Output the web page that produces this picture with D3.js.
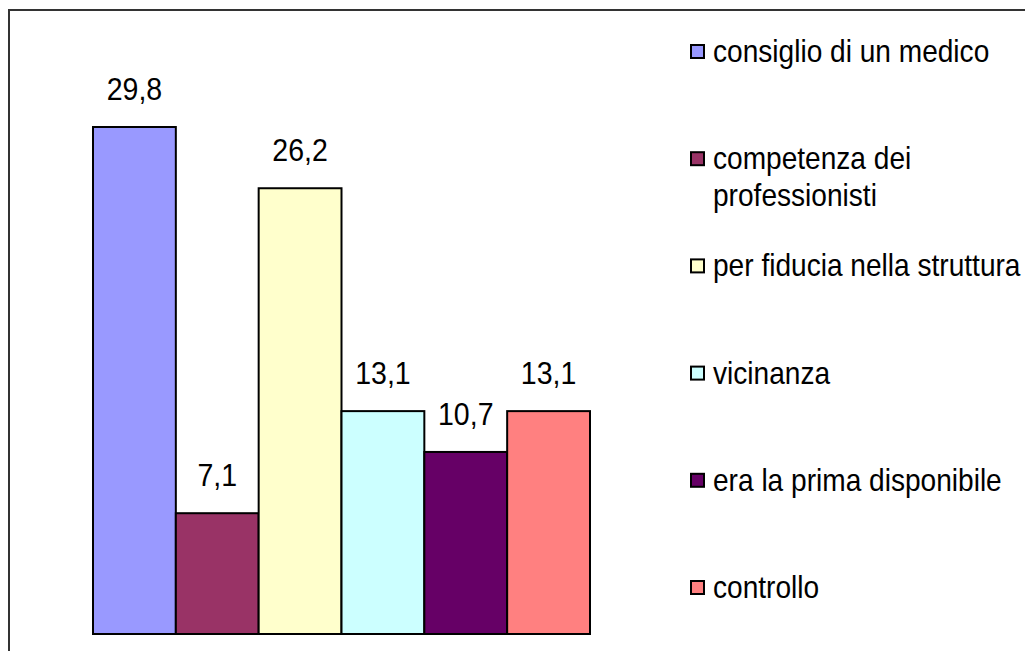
<!DOCTYPE html>
<html>
<head>
<meta charset="utf-8">
<script src="https://cdn.jsdelivr.net/npm/d3@7"></script>
<style>
  body { margin: 0; background: white; }
  text { font-family: "Liberation Sans", Arial, sans-serif; fill: #000; }
</style>
</head>
<body>
<div id="chart"></div>
<script>
// Chart data
var categories = ["consiglio di un medico", "competenza dei professionisti", "per fiducia nella struttura",
    "vicinanza", "era la prima disponibile", "controllo"];
var values = [29.8, 7.1, 26.2, 13.1, 10.7, 13.1];
var valueLabels = ["29,8", "7,1", "26,2", "13,1", "10,7", "13,1"];
// legend lines (wrapped as in the picture)
var legendLines = [["consiglio di un medico"], ["competenza dei", "professionisti"], ["per fiducia nella struttura"],
    ["vicinanza"], ["era la prima disponibile"], ["controllo"]];
var colors = ["#9999FF", "#993366", "#FFFFCC", "#CCFFFF", "#660066", "#FF8080"];

var svgWidth = 1025;
var svgHeight = 651;

var svg = d3.select("#chart")
    .append("svg")
    .attr("width", svgWidth)
    .attr("height", svgHeight);

svg.append("rect").attr("width", svgWidth).attr("height", svgHeight).attr("fill", "white");

// Outer frame (only top and left are visible in the picture)
svg.append("path")
    .attr("d", `M9,${svgHeight} V10 H${svgWidth}`)
    .attr("fill", "none")
    .attr("stroke", "#333")
    .attr("stroke-width", 2);

// Scales
var xScale = d3.scaleBand()
    .domain(categories)
    .range([93, 590])
    .padding(0);

var yScale = d3.scaleLinear()
    .domain([0, 29.8])
    .range([634, 127]);

var barGroup = svg.append("g");

barGroup.selectAll("rect")
    .data(values)
    .enter()
    .append("rect")
    .attr("x", (d, i) => xScale(categories[i]))
    .attr("y", d => yScale(d))
    .attr("width", xScale.bandwidth())
    .attr("height", d => yScale(0) - yScale(d))
    .attr("fill", (d, i) => colors[i])
    .attr("stroke", "#000")
    .attr("stroke-width", 2);

// Value labels above bars (text a bit taller than wide, like the original)
barGroup.selectAll("text")
    .data(values)
    .enter()
    .append("text")
    .attr("transform", (d, i) => `translate(${xScale(categories[i]) + xScale.bandwidth() / 2}, ${yScale(d) - 27}) scale(1, 1.08)`)
    .attr("text-anchor", "middle")
    .style("font-size", "28.5px")
    .text((d, i) => valueLabels[i]);

// Legend
var legendY = d3.scalePoint()
    .domain(categories)
    .range([52, 588]);

var legend = svg.append("g");

categories.forEach((cat, i) => {
    var cy = legendY(cat);
    legend.append("rect")
        .attr("x", 691)
        .attr("y", cy - 7)
        .attr("width", 13)
        .attr("height", 13)
        .attr("fill", colors[i])
        .attr("stroke", "#000")
        .attr("stroke-width", 2);

    legendLines[i].forEach((line, j) => {
        legend.append("text")
            .attr("transform", `translate(713, ${cy + 10 + j * 37}) scale(1, 1.1)`)
            .style("font-size", "28.1px")
            .text(line);
    });
});
</script>
</body>
</html>
